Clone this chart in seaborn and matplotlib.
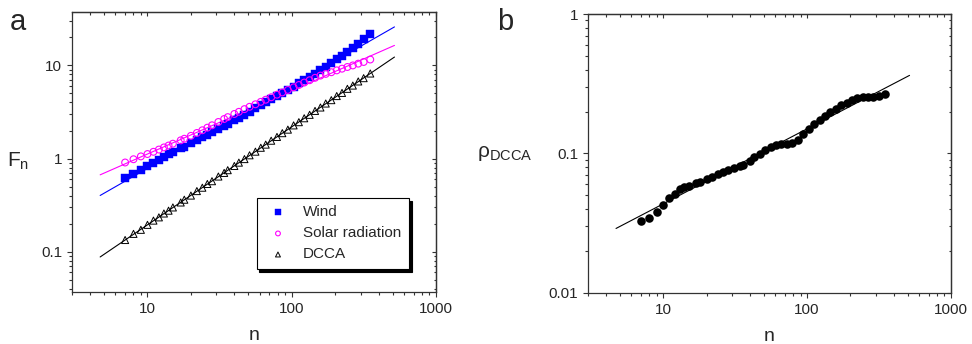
import numpy as np
import pandas as pd
import seaborn as sns
import matplotlib.pyplot as plt
from matplotlib.ticker import LogLocator, NullFormatter

# window sizes (same for every series)
n_values = [7, 8, 9, 10, 11, 12, 13, 14, 15, 17, 18, 20, 22, 24, 26, 28, 31, 34, 36,
            40, 43, 47, 51, 56, 61, 66, 72, 79, 86, 94, 103, 112, 122, 133, 145, 158,
            172, 188, 205, 223, 243, 265, 289, 315, 350]

wind_fn = [0.620, 0.690, 0.760, 0.826, 0.897, 0.971, 1.042, 1.109, 1.169, 1.285, 1.346,
           1.462, 1.578, 1.694, 1.807, 1.919, 2.092, 2.259, 2.366, 2.588, 2.751, 2.972,
           3.199, 3.459, 3.724, 4.000, 4.315, 4.694, 5.052, 5.470, 5.936, 6.405, 6.918,
           7.516, 8.147, 8.881, 9.683, 10.59, 11.59, 12.71, 14.00, 15.45, 17.18, 19.10,
           21.90]

solar_fn = [0.908, 0.984, 1.056, 1.119, 1.183, 1.250, 1.318, 1.381, 1.445, 1.570, 1.633,
            1.754, 1.884, 2.014, 2.147, 2.277, 2.472, 2.661, 2.786, 3.013, 3.177, 3.396,
            3.597, 3.828, 4.064, 4.285, 4.550, 4.853, 5.129, 5.457, 5.821, 6.166, 6.546,
            6.934, 7.362, 7.780, 8.110, 8.450, 8.850, 9.230, 9.620, 10.00, 10.45, 10.89,
            11.57]

dcca_fn = [0.1337, 0.1556, 0.1720, 0.1945, 0.2160, 0.2340, 0.2575, 0.2760, 0.2990, 0.3380,
           0.3620, 0.4010, 0.4480, 0.4870, 0.5340, 0.5720, 0.6420, 0.7020, 0.7510, 0.8330,
           0.9050, 0.9880, 1.0850, 1.1870, 1.3070, 1.4130, 1.5560, 1.7080, 1.8750, 2.0460,
           2.2720, 2.4600, 2.7100, 2.9500, 3.2500, 3.5350, 3.9000, 4.2400, 4.6900, 5.0700,
           5.6100, 6.0800, 6.7300, 7.3000, 8.1900]

rho_dcca = [0.0328, 0.0347, 0.0379, 0.0429, 0.0479, 0.0514, 0.0556, 0.0571, 0.0586,
            0.0614, 0.0627, 0.0656, 0.0684, 0.0713, 0.0736, 0.0757, 0.0787, 0.0809,
            0.0832, 0.0889, 0.0944, 0.0998, 0.1054, 0.1114, 0.1159, 0.1175, 0.1170,
            0.1185, 0.1259, 0.1390, 0.1510, 0.1633, 0.1726, 0.1854, 0.1977, 0.2094,
            0.2213, 0.2312, 0.2415, 0.2483, 0.2553, 0.2553, 0.2541, 0.2582, 0.2667]

# power-law fits: log10(y) = slope * log10(n) + intercept
fit_range = [4.7, 515]
wind_fit = (0.887, -0.992)
solar_fit = (0.681, -0.632)
dcca_fit = (1.052, -1.763)
rho_fit = (0.538, -1.899)

x_ticks = [10, 100, 1000]
x_tick_labels = ['10', '100', '1000']
fn_ticks = [0.1, 1, 10]
fn_tick_labels = ['0.1', '1', '10']
rho_ticks = [0.01, 0.1, 1]
rho_tick_labels = ['0.01', '0.1', '1']

series_names = ['Wind', 'Solar radiation', 'DCCA']


def fit_line(params):
    x = np.array(fit_range)
    return x, 10 ** (params[0] * np.log10(x) + params[1])


def style_log_axes(ax, yticks, ylabels):
    ax.set_xscale('log')
    ax.set_yscale('log')
    ax.set_xticks(x_ticks, x_tick_labels)
    ax.set_yticks(yticks, ylabels)
    for axis in (ax.xaxis, ax.yaxis):
        axis.set_minor_locator(LogLocator(base=10, subs=np.arange(2, 10), numticks=30))
        axis.set_minor_formatter(NullFormatter())
    ax.tick_params(which='both', direction='out', top=False, right=False,
                   labelsize=11, color='#333333', width=0.8)
    ax.tick_params(which='major', length=3.6)
    ax.tick_params(which='minor', length=2.2)
    for sp in ax.spines.values():
        sp.set_linewidth(0.9)
        sp.set_color('#333333')
    # mirrored ticks pointing inwards on top and right
    top = ax.secondary_xaxis('top')
    right = ax.secondary_yaxis('right')
    top.tick_params(which='both', direction='in', labeltop=False, color='#333333', width=0.8)
    right.tick_params(which='both', direction='in', labelright=False, color='#333333', width=0.8)
    for sec in (top, right):
        sec.tick_params(which='major', length=3.2)
        sec.tick_params(which='minor', length=1.8)
        for sp in sec.spines.values():
            sp.set_linewidth(0.9)
            sp.set_color('#333333')


sns.set_style('ticks')
plt.rcParams['font.family'] = ['Liberation Sans', 'DejaVu Sans']
plt.rcParams['mathtext.fontset'] = 'custom'
plt.rcParams['mathtext.rm'] = 'Liberation Sans'

fig = plt.figure(figsize=(9.72, 3.44), dpi=100)
ax1 = fig.add_axes([0.0741, 0.1512, 0.3745, 0.8125])
ax2 = fig.add_axes([0.6049, 0.1483, 0.3735, 0.8110])

# ---- panel a ----
ax1.set_xscale('log')
ax1.set_yscale('log')
for params, col in [(wind_fit, '#0000ff'), (solar_fit, '#ff00ff'), (dcca_fit, 'black')]:
    xf, yf = fit_line(params)
    sns.lineplot(x=xf, y=yf, color=col, linewidth=0.8, ax=ax1)

sns.scatterplot(x=n_values, y=wind_fn, marker='s', s=30, color='#0000ff',
                edgecolor='#0000ff', linewidth=0.3, label=series_names[0], ax=ax1, zorder=3)
sns.scatterplot(x=n_values, y=solar_fn, marker='o', s=24, facecolors='none',
                edgecolors='#ff00ff', linewidths=0.8, label=series_names[1], ax=ax1, zorder=3)
sns.scatterplot(x=n_values, y=dcca_fn, marker='^', s=26, facecolors='none',
                edgecolors='black', linewidths=0.7, label=series_names[2], ax=ax1, zorder=3)

ax1.set_xlim(3, 1000)
ax1.set_ylim(0.037, 37)
style_log_axes(ax1, fn_ticks, fn_tick_labels)

ax1.set_xlabel('n', fontsize=14, va='baseline')
ax1.xaxis.set_label_coords(0.5, -0.172)
ax1.set_ylabel(r'$\mathregular{F_n}$', rotation=0, fontsize=15, ha='center', va='center')
ax1.yaxis.set_label_coords(-0.148, 0.469)

leg = ax1.legend(loc='upper left', bbox_to_anchor=(0.507, 0.337), borderaxespad=0,
                 frameon=True, fancybox=False, framealpha=1, edgecolor='black',
                 shadow={'color': 'black', 'alpha': 1}, fontsize=11,
                 markerscale=0.7, handlelength=1.8, handletextpad=0.75,
                 labelspacing=0.46, borderpad=0.5)
leg.get_frame().set_linewidth(0.8)

# ---- panel b ----
ax2.set_xscale('log')
ax2.set_yscale('log')
xf, yf = fit_line(rho_fit)
sns.lineplot(x=xf, y=yf, color='black', linewidth=0.8, ax=ax2)
sns.scatterplot(x=n_values, y=rho_dcca, marker='o', s=38, color='black',
                edgecolor='black', linewidth=0, ax=ax2, zorder=3)
ax2.set_xlim(3, 1000)
ax2.set_ylim(0.01, 1)
style_log_axes(ax2, rho_ticks, rho_tick_labels)

ax2.set_xlabel('n', fontsize=14, va='baseline')
ax2.xaxis.set_label_coords(0.5, -0.172)
ax2.set_ylabel(r'$\mathregular{\rho_{DCCA}}$', rotation=0, fontsize=15, ha='right', va='center')
ax2.yaxis.set_label_coords(-0.152, 0.5)

fig.text(10 / 972, 1 - 30 / 344, 'a', fontsize=21, va='baseline', ha='left')
fig.text(497 / 972, 1 - 30 / 344, 'b', fontsize=21, va='baseline', ha='left')

fig.savefig('out.png', dpi=100)
plt.close(fig)
